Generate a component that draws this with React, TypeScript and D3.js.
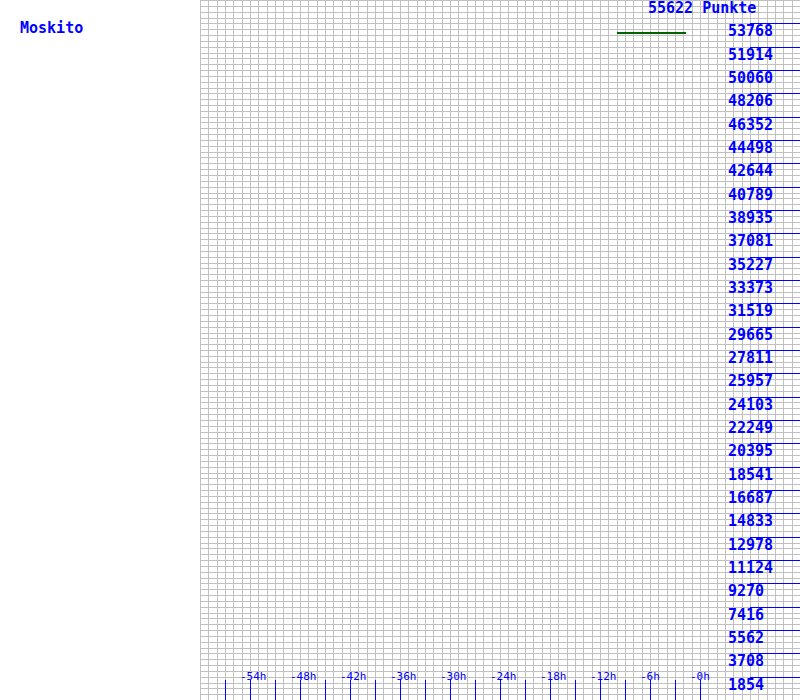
import React, { useEffect } from "react";
import * as d3 from "d3";

const title = "Moskito";
const maxLabel = "55622 Punkte";
const maxValue = 55622;
const yTickValues = [
  1854, 3708, 5562, 7416, 9270, 11124, 12978, 14833, 16687, 18541, 20395,
  22249, 24103, 25957, 27811, 29665, 31519, 33373, 35227, 37081, 38935,
  40789, 42644, 44498, 46352, 48206, 50060, 51914, 53768,
];
const xLabelHours = [-54, -48, -42, -36, -30, -24, -18, -12, -6, 0];
const xTickHours = [-57, -54, -51, -48, -45, -42, -39, -36, -33, -30, -27, -24, -21, -18, -15, -12, -9, -6, -3, 0];
const seriesHours = [-10, -1.7];
const seriesValues = [53000, 53000];

const W = 800;
const H = 700;
const FONT = "'DejaVu Sans Mono', monospace";
const BLUE = "#0000ff";

export default function App() {
  useEffect(() => {
    document.body.style.margin = "0";
  }, []);

  const x = d3.scaleLinear().domain([-60, 12]).range([200, 800]);
  const y = d3.scaleLinear().domain([0, maxValue]).range([700, 0]);

  const vGrid = d3.range(-60, 13, 1);
  const hGrid = d3.range(0, 121, 1).map((i) => (i * maxValue) / 120);

  const line = d3
    .line<number>()
    .x((_, i) => x(seriesHours[i]))
    .y((d) => y(d));

  const px = (v: number) => Math.round(v);

  return (
    <svg width={W} height={H} style={{ display: "block", background: "#fff" }}>
      <rect x={0} y={0} width={W} height={H} fill="#fff" />
      <g fill="#c0c0c0">
        {vGrid.map((h) => (
          <rect key={"v" + h} x={px(x(h))} y={0} width={1} height={H} />
        ))}
        {hGrid.map((v, i) => (
          <rect key={"h" + i} x={200} y={px(y(v))} width={W - 200} height={1} />
        ))}
      </g>
      <path
        d={line(seriesValues) || ""}
        fill="none"
        stroke="#006400"
        strokeWidth={2}
        shapeRendering="crispEdges"
      />
      <g fill={BLUE}>
        {yTickValues.map((v) => (
          <rect key={"yt" + v} x={750} y={px(y(v))} width={W - 750} height={1} />
        ))}
        {xTickHours.map((h) => (
          <rect key={"xt" + h} x={px(x(h))} y={680} width={1} height={H - 680} />
        ))}
      </g>
      <g fill={BLUE} fontFamily={FONT} fontWeight="bold" fontSize={15}>
        {yTickValues.map((v) => (
          <text key={"yl" + v} x={728} y={y(v) + 13}>
            {v}
          </text>
        ))}
        <text x={648} y={13}>{maxLabel}</text>
        <text x={20} y={33}>{title}</text>
      </g>
      <g fill={BLUE} fontFamily={FONT} fontSize={11}>
        {xLabelHours.map((h) => (
          <text key={"xl" + h} x={x(h) - 10} y={680}>
            {h === 0 ? "-0h" : `${h}h`}
          </text>
        ))}
      </g>
    </svg>
  );
}
